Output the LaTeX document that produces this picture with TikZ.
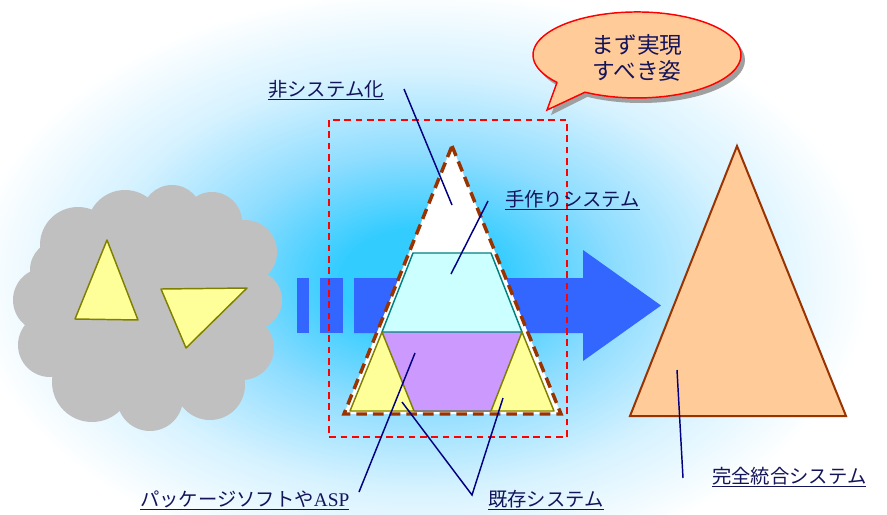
\documentclass[tikz,border=0pt]{standalone}
\usepackage{fontspec}
\setmainfont{Noto Sans CJK JP}
\newfontfamily\latinserif{Liberation Serif}
\definecolor{glowc}{HTML}{33CCFF}
\definecolor{glowm}{HTML}{8FDDFF}
\definecolor{glowl}{HTML}{D6F2FF}
\definecolor{cloudc}{HTML}{C0C0C0}
\definecolor{yelc}{HTML}{FFFF99}
\definecolor{olivec}{HTML}{808000}
\definecolor{arrowc}{HTML}{3366FF}
\definecolor{brownc}{HTML}{993300}
\definecolor{cyanc}{HTML}{CCFFFF}
\definecolor{tealc}{HTML}{008080}
\definecolor{purc}{HTML}{CC99FF}
\definecolor{orangec}{HTML}{FFCC99}
\definecolor{navyc}{HTML}{000080}
\definecolor{txtc}{HTML}{14145A}
\pgfdeclareradialshading{glow}{\pgfpoint{0bp}{0bp}}{color(0bp)=(glowc); color(4.5bp)=(glowc); color(11bp)=(glowm); color(18bp)=(glowl); color(25bp)=(white); color(50bp)=(white)}
\tikzset{
  lbl/.style={anchor=base west, inner sep=0pt, text=txtc, font=\fontsize{14.5pt}{17pt}\selectfont},
  leader/.style={draw=navyc, line width=1.1pt},
  ytri/.style={fill=yelc, draw=olivec, line width=1.1pt, line join=round},
}
\begin{document}
\begin{tikzpicture}[x=0.75pt,y=-0.75pt]
\useasboundingbox (0,0) rectangle (887,514);
\fill[white] (0,0) rectangle (887,514);
% glow
\begin{scope}
\clip (0,0) rectangle (887,514);
\fill[shading=glow] (-30,-10) rectangle (870,570);
\end{scope}
% cloud
\fill[cloudc]
  (150,310) circle [radius=95]
  (78,245) circle [radius=38]
  (125,228) circle [radius=38]
  (172,215) circle [radius=30]
  (212,222) circle [radius=30]
  (245,252) circle [radius=32]
  (252,300) circle [radius=30]
  (242,348) circle [radius=32]
  (210,385) circle [radius=35]
  (150,398) circle [radius=33]
  (92,382) circle [radius=40]
  (50,345) circle [radius=32]
  (45,300) circle [radius=32]
  (60,270) circle [radius=30];
\path[ytri] (107,240) -- (138,320) -- (75,319) -- cycle;
\path[ytri] (161,289) -- (247,288) -- (186,348) -- cycle;
% blue arrow
\fill[arrowc] (297,278) rectangle (309,333);
\fill[arrowc] (320,278) rectangle (343,333);
\fill[arrowc] (354,278) -- (583,278) -- (583,250) -- (661,305.5) -- (583,361) -- (583,333) -- (354,333) -- cycle;
% pyramid
\fill[white] (452,146) -- (561,414) -- (344,414) -- cycle;
\path[fill=purc] (382,332) -- (522,332) -- (554,411) -- (350,411) -- cycle;
\draw[gray, line width=0.8pt] (414,411) -- (491,411);
\path[fill=cyanc, draw=tealc, line width=1.1pt, line join=round] (413,253) -- (491,253) -- (522,332) -- (382,332) -- cycle;
\path[ytri] (382,332) -- (414,411) -- (350,411) -- cycle;
\path[ytri] (522,332) -- (554,411) -- (491,411) -- cycle;
\draw[brownc, line width=2.6pt, dash pattern=on 8pt off 4.5pt, line join=miter] (452,146) -- (561,414) -- (344,414) -- cycle;
% red dashed box
\draw[red, line width=1.2pt, dash pattern=on 5pt off 3.5pt] (329,120) rectangle (567,437);
% orange triangle
\path[fill=orangec, draw=brownc, line width=1.5pt, line join=miter] (737,146) -- (846,416) -- (630,416) -- cycle;
% speech bubble
\path[fill=gray!75] (641,60) ellipse [x radius=104, y radius=43];
\path[fill=gray!75] (561,88) -- (551,115) -- (589,96) -- cycle;
\path[fill=orangec, draw=red, line width=1.1pt, line join=miter]
  (557,82.5) -- (547,110) -- (585,92.2)
  arc[start angle=120, end angle=-220, x radius=104, y radius=43] -- cycle;
\node[inner sep=0pt, text=txtc, align=center, font=\fontsize{17pt}{20pt}\selectfont] (bub) at (637,58) {まず実現\\すべき姿};
% labels
\node[lbl] (l1) at (268,96) {\underline{非システム化}};
\node[lbl] (l2) at (505,206) {\underline{手作りシステム}};
\node[lbl] (l3) at (140,506) {\underline{パッケージソフトや{\latinserif ASP}}};
\node[lbl] (l4) at (488,506) {\underline{既存システム}};
\node[lbl] (l5) at (712,483) {\underline{完全統合システム}};
% leader end points
\coordinate (a1) at (404,89);   \coordinate (b1) at (452,205);
\coordinate (a2) at (488,201);  \coordinate (b2) at (451,274);
\coordinate (a3) at (359,492);  \coordinate (b3) at (415,353);
\coordinate (a4) at (472,495);  \coordinate (b4) at (402,402); \coordinate (c4) at (503,398);
\coordinate (a5) at (683,478);  \coordinate (b5) at (677,370);
\draw[leader] (a1) -- (b1);
\draw[leader] (a2) -- (b2);
\draw[leader] (a3) -- (b3);
\draw[leader] (b4) -- (a4) -- (c4);
\draw[leader] (a5) -- (b5);
\end{tikzpicture}
\end{document}
